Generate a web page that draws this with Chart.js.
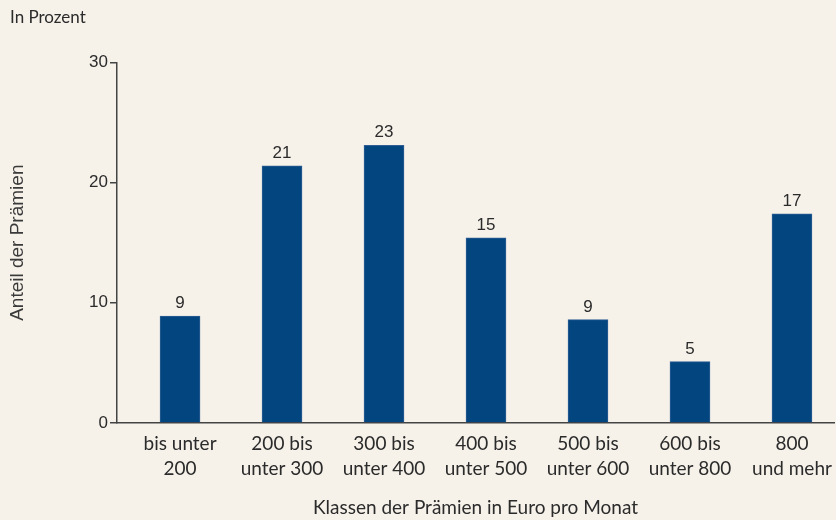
<!DOCTYPE html>
<html lang="de">
<head>
  <meta charset="UTF-8" />
  <title>Prämienklassen</title>
  <style>
    * { margin: 0; padding: 0; box-sizing: border-box; }
    body { background-color: #f6f2ea; overflow: hidden; }
    .chart-box { position: relative; width: 836px; height: 520px; }
  </style>
</head>
<body>
  <div class="chart-box">
    <canvas id="praemienChart"></canvas>
  </div>

  <script src="https://cdn.jsdelivr.net/npm/chart.js"></script>
  <script>
    // Kategorien (mehrzeilige Achsenbeschriftung)
    const categories = [
      ['bis unter', '200'],
      ['200 bis', 'unter 300'],
      ['300 bis', 'unter 400'],
      ['400 bis', 'unter 500'],
      ['500 bis', 'unter 600'],
      ['600 bis', 'unter 800'],
      ['800', 'und mehr']
    ];
    // Anteil der Prämien in Prozent
    const shares = [8.9, 21.4, 23.1, 15.4, 8.6, 5.1, 17.4];
    const yTicks = [0, 10, 20, 30];

    const axisColor = '#444';
    const textColor = '#2b2b2b';

    // Werte über die Balken schreiben
    const valueLabels = {
      id: 'valueLabels',
      afterDatasetsDraw(chart) {
        const ctx = chart.ctx;
        const meta = chart.getDatasetMeta(0);
        ctx.save();
        ctx.font = '17px "Liberation Sans"';
        ctx.fillStyle = textColor;
        ctx.textAlign = 'center';
        ctx.textBaseline = 'alphabetic';
        meta.data.forEach((bar, i) => {
          ctx.fillText(String(Math.round(shares[i])), bar.x, bar.y - 8);
        });
        ctx.restore();
      }
    };

    const ctx = document.getElementById('praemienChart').getContext('2d');
    new Chart(ctx, {
      type: 'bar',
      data: {
        datasets: [{
          data: shares.map((v, i) => ({ x: i, y: v })),
          backgroundColor: '#03457f',
          borderColor: '#2e5f94',
          borderWidth: 1,
          barThickness: 40
        }]
      },
      options: {
        responsive: true,
        maintainAspectRatio: false,
        animation: false,
        layout: { padding: { left: 10, right: 2, top: 0, bottom: 0 } },
        plugins: {
          legend: { display: false },
          tooltip: { enabled: false },
          title: {
            display: true,
            text: 'In Prozent',
            align: 'start',
            color: textColor,
            font: { family: 'Lato', size: 17, weight: 'normal' },
            padding: { top: 7, bottom: 35 }
          }
        },
        scales: {
          x: {
            type: 'linear',
            offset: false,
            min: -0.618,
            max: 6.412,
            grid: { display: false, offset: false },
            border: { display: true, color: axisColor, width: 1.5 },
            afterBuildTicks: scale => {
              scale.ticks = categories.map((c, i) => ({ value: i }));
            },
            afterFit: scale => { scale.height = 97; },
            ticks: {
              autoSkip: false,
              maxRotation: 0,
              padding: 0,
              color: textColor,
              font: { family: 'Lato', size: 19, lineHeight: 1.32 },
              callback: value => categories[value] || ''
            },
            title: {
              display: true,
              text: 'Klassen der Prämien in Euro pro Monat',
              color: textColor,
              font: { family: 'Lato', size: 19 },
              padding: { top: 0, bottom: 1 }
            }
          },
          y: {
            min: 0,
            max: 30,
            afterBuildTicks: scale => {
              scale.ticks = yTicks.map(v => ({ value: v }));
            },
            afterFit: scale => { scale.width = 107; },
            grid: {
              drawOnChartArea: false,
              drawTicks: true,
              tickLength: 7,
              color: axisColor,
              lineWidth: 1.5
            },
            border: { display: true, color: axisColor, width: 1.5 },
            ticks: {
              padding: 2,
              color: textColor,
              font: { family: 'Liberation Sans', size: 17 }
            },
            title: {
              display: true,
              text: 'Anteil der Prämien',
              color: '#3a3a3a',
              font: { family: 'Liberation Sans', size: 19 },
              padding: { top: -4, bottom: 0 }
            }
          }
        }
      },
      plugins: [valueLabels]
    });
  </script>
</body>
</html>
